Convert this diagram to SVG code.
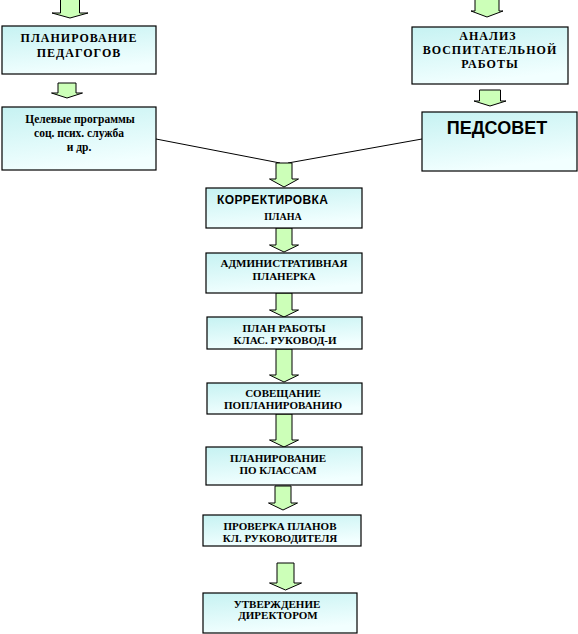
<svg xmlns="http://www.w3.org/2000/svg" width="578" height="634" viewBox="0 0 578 634">
<defs>
<linearGradient id="bg" x1="0" y1="0" x2="0.3" y2="1">
<stop offset="0" stop-color="#c6f2f2"/>
<stop offset="1" stop-color="#f2ffff"/>
</linearGradient>
<style>
.box{fill:url(#bg);stroke:#000;stroke-width:1.2}
.arr{fill:#ccffb8;stroke:#000;stroke-width:1}
.ln{stroke:#000;stroke-width:1;fill:none}
text{font-family:"Liberation Serif","Times New Roman",serif;font-weight:bold;font-size:11px;text-anchor:middle;fill:#000}
.big{font-size:12px;letter-spacing:1px}
.mid{font-size:11.5px}
.sans{font-family:"Liberation Sans",Arial,sans-serif}
</style>
</defs>
<rect width="578" height="634" fill="#fff"/>
<g id="connectors">
<path class="ln" d="M156,139 L280,163"/>
<path class="ln" d="M422,139 L288,163"/>
<path class="arr" d="M60.5,-1 H79.5 V13 H88 L70,18 L52,13 H60.5 Z"/>
<path class="arr" d="M58,83 H76 V93 H82.5 L67,98 L51.5,93 H58 Z"/>
<path class="arr" d="M475,-1 H499 V11 H503 L487,17 L471,11 H475 Z"/>
<path class="arr" d="M479.5,90 H500.5 V101 H506 L490,106 L474,101 H479.5 Z"/>
<path class="arr" d="M276,163 H292 V179 H298.5 L284,187 L269.5,179 H276 Z"/>
<path class="arr" d="M276,228 H292 V245 H298.5 L284,252 L269.5,245 H276 Z"/>
<path class="arr" d="M276,293 H292 V310 H298.5 L284,317 L269.5,310 H276 Z"/>
<path class="arr" d="M276,349 H292 V375 H298.5 L284,382 L269.5,375 H276 Z"/>
<path class="arr" d="M276,414 H292 V440 H298.5 L284,447 L269.5,440 H276 Z"/>
<path class="arr" d="M275,486 H291 V503 H297.5 L283,510 L268.5,503 H275 Z"/>
<path class="arr" d="M277,563 H294 V583 H301.5 L285.5,590 L269.5,583 H277 Z"/>
</g>
<g id="n1">
<rect class="box" x="2" y="26" width="154" height="48"/>
<text class="big" x="79" y="42">ПЛАНИРОВАНИЕ</text>
<text class="big" x="79" y="57">ПЕДАГОГОВ</text>
</g>
<g id="n2">
<rect class="box" x="2" y="107" width="154" height="63"/>
<text class="mid" x="80" y="123">Целевые программы</text>
<text class="mid" x="79" y="137">соц. псих. служба</text>
<text class="mid" x="79" y="151">и др.</text>
</g>
<g id="n3">
<rect class="box" x="412" y="27" width="156" height="57"/>
<text class="big" x="488" y="40">АНАЛИЗ</text>
<text class="big" x="490" y="54">ВОСПИТАТЕЛЬНОЙ</text>
<text class="big" x="490" y="68">РАБОТЫ</text>
</g>
<g id="n4">
<rect class="box" x="422" y="112" width="155" height="59"/>
<text class="sans" x="497" y="134" style="font-size:18px">ПЕДСОВЕТ</text>
</g>
<g id="n5">
<rect class="box" x="206" y="188" width="156" height="40"/>
<text class="sans" x="217" y="204" style="font-size:12px;text-anchor:start;letter-spacing:0.4px">КОРРЕКТИРОВКА</text>
<text x="283" y="220" style="font-size:10px">ПЛАНА</text>
</g>
<g id="n6">
<rect class="box" x="206" y="253" width="156" height="40"/>
<text x="284" y="267">АДМИНИСТРАТИВНАЯ</text>
<text x="284" y="280">ПЛАНЕРКА</text>
</g>
<g id="n7">
<rect class="box" x="207" y="317" width="155" height="32"/>
<text x="284" y="332">ПЛАН РАБОТЫ</text>
<text x="285" y="344">КЛАС. РУКОВОД-И</text>
</g>
<g id="n8">
<rect class="box" x="207" y="383" width="155" height="31"/>
<text x="283" y="397">СОВЕЩАНИЕ</text>
<text x="283" y="409">ПОПЛАНИРОВАНИЮ</text>
</g>
<g id="n9">
<rect class="box" x="206" y="447" width="156" height="38"/>
<text x="278" y="462">ПЛАНИРОВАНИЕ</text>
<text x="278" y="474">ПО КЛАССАМ</text>
</g>
<g id="n10">
<rect class="box" x="203" y="515" width="158" height="31"/>
<text x="280" y="530">ПРОВЕРКА ПЛАНОВ</text>
<text x="280" y="542">КЛ. РУКОВОДИТЕЛЯ</text>
</g>
<g id="n11">
<rect class="box" x="203" y="593" width="154" height="40"/>
<text x="277" y="608">УТВЕРЖДЕНИЕ</text>
<text x="278" y="619">ДИРЕКТОРОМ</text>
</g>
</svg>
